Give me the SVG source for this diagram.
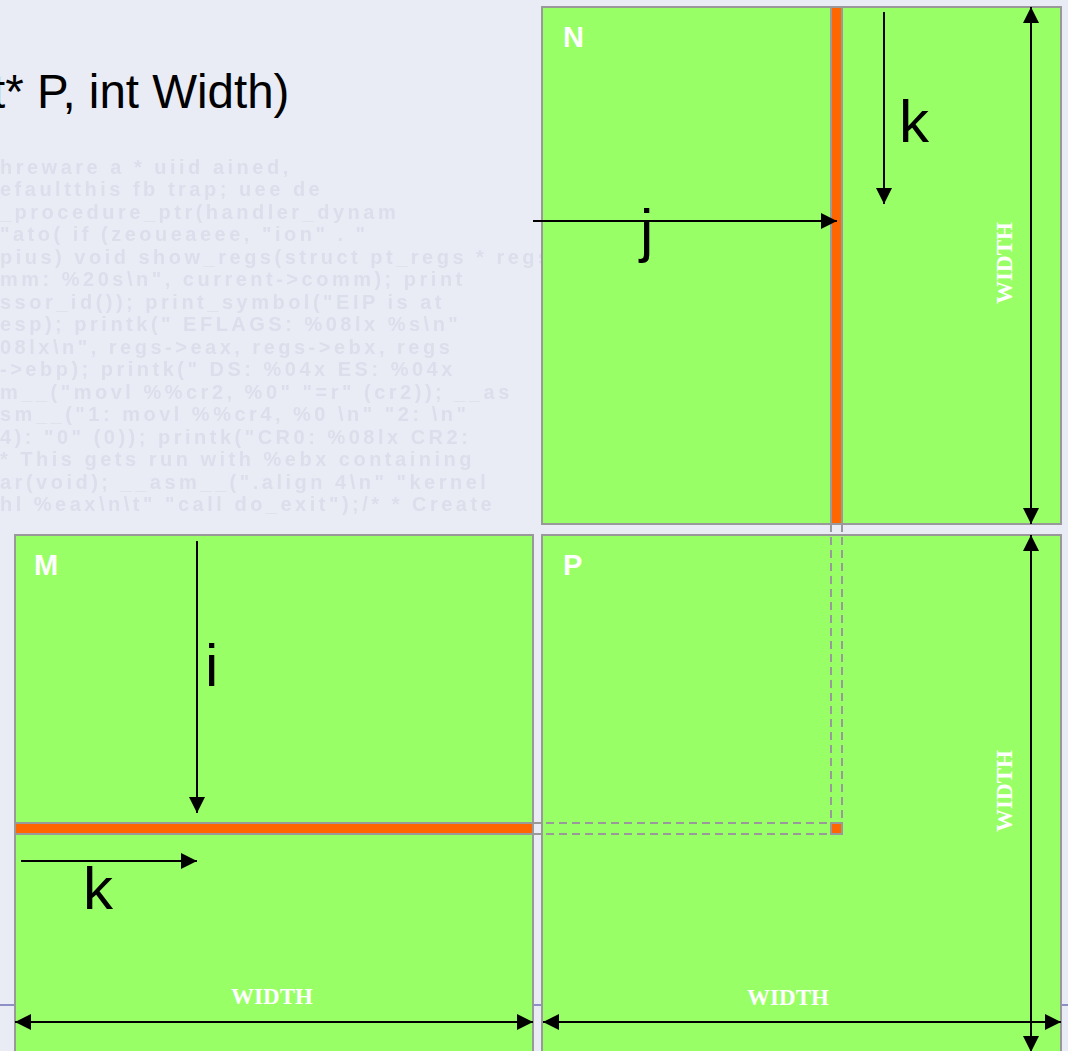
<svg xmlns="http://www.w3.org/2000/svg" width="1068" height="1051" viewBox="0 0 1068 1051">
<defs>
<marker id="ah" viewBox="0 0 16 16" markerWidth="16" markerHeight="16" refX="16" refY="8" orient="auto-start-reverse" markerUnits="userSpaceOnUse">
<path d="M0,0 L16,8 L0,16 Z" fill="#000"/>
</marker>
<filter id="soft" x="-5%" y="-5%" width="110%" height="110%">
<feGaussianBlur stdDeviation="0.7"/>
</filter>
<style>
.bgcode{font-family:"Liberation Sans",Arial,sans-serif;font-weight:bold;font-size:20px;fill:#dcdfeb;letter-spacing:3.5px}
.box{fill:#99ff66;stroke:#999;stroke-width:2}
.bar{fill:#ff6600;stroke:#999;stroke-width:2}
.dash{stroke:#999;stroke-width:2;stroke-dasharray:8 5;fill:none}
.arr{stroke:#000;stroke-width:2;fill:none}
.name{font-family:"Liberation Sans",Arial,sans-serif;font-weight:bold;font-size:29px;fill:#fff}
.idx{font-family:"Liberation Sans",Arial,sans-serif;font-size:60px;fill:#000}
.wd{font-family:"Liberation Serif","Times New Roman",serif;font-weight:bold;font-size:23px;fill:#fff;text-anchor:middle}
.title{font-family:"Liberation Sans",Arial,sans-serif;font-size:47.5px;fill:#000}
</style>
</defs>
<rect x="0" y="0" width="1068" height="1051" fill="#e9ecf5"/>
<g id="background-code" filter="url(#soft)">
<text class="bgcode" x="0" y="174">hreware a * uiid ained,</text>
<text class="bgcode" x="0" y="196">efaultthis fb trap; uee de</text>
<text class="bgcode" x="0" y="219">_procedure_ptr(handler_dynam</text>
<text class="bgcode" x="0" y="241">"ato( if (zeoueaeee, "ion" . "</text>
<text class="bgcode" x="0" y="264">pius) void show_regs(struct pt_regs * regs)</text>
<text class="bgcode" x="0" y="286">mm: %20s\n", current-&gt;comm); print</text>
<text class="bgcode" x="0" y="309">ssor_id()); print_symbol("EIP is at</text>
<text class="bgcode" x="0" y="331">esp); printk(" EFLAGS: %08lx %s\n"</text>
<text class="bgcode" x="0" y="354">08lx\n", regs-&gt;eax, regs-&gt;ebx, regs</text>
<text class="bgcode" x="0" y="376">-&gt;ebp); printk(" DS: %04x ES: %04x</text>
<text class="bgcode" x="0" y="399">m__("movl %%cr2, %0" "=r" (cr2)); __as</text>
<text class="bgcode" x="0" y="421">sm__("1: movl %%cr4, %0 \n" "2: \n"</text>
<text class="bgcode" x="0" y="444">4): "0" (0)); printk("CR0: %08lx CR2:</text>
<text class="bgcode" x="0" y="466"> * This gets run with %ebx containing</text>
<text class="bgcode" x="0" y="489">ar(void); __asm__(".align 4\n" "kernel</text>
<text class="bgcode" x="0" y="511">hl %eax\n\t" "call do_exit");/* * Create</text>
</g>
<line x1="0" y1="1005" x2="1068" y2="1005" stroke="#333399" stroke-width="1"/>
<text class="title" x="-8" y="108">t* P, int Width)</text>
<g id="node-N">
<rect class="box" x="542" y="7" width="519" height="517"/>
<rect class="bar" x="831" y="7" width="11" height="517"/>
<text class="name" x="563" y="47">N</text>
</g>
<g id="node-M">
<rect class="box" x="15" y="535" width="518" height="530"/>
<rect class="bar" x="15" y="823" width="518" height="11"/>
<text class="name" x="34" y="575">M</text>
</g>
<g id="node-P">
<rect class="box" x="542" y="535" width="519" height="530"/>
<text class="name" x="563" y="575">P</text>
</g>
<g id="connectors">
<path class="dash" d="M831,524 V823 M842,524 V834 M533,823 H831 M533,834 H842"/>
<rect class="bar" x="831" y="823" width="11" height="11"/>
<line class="arr" x1="533" y1="221" x2="837" y2="221" marker-end="url(#ah)"/>
<line class="arr" x1="884" y1="12" x2="884" y2="204" marker-end="url(#ah)"/>
<line class="arr" x1="1031" y1="7" x2="1031" y2="524" marker-start="url(#ah)" marker-end="url(#ah)"/>
<line class="arr" x1="1031" y1="535" x2="1031" y2="1052" marker-start="url(#ah)" marker-end="url(#ah)"/>
<line class="arr" x1="197" y1="541" x2="197" y2="813" marker-end="url(#ah)"/>
<line class="arr" x1="21" y1="861" x2="197" y2="861" marker-end="url(#ah)"/>
<line class="arr" x1="15" y1="1022" x2="533" y2="1022" marker-start="url(#ah)" marker-end="url(#ah)"/>
<line class="arr" x1="543" y1="1022" x2="1061" y2="1022" marker-start="url(#ah)" marker-end="url(#ah)"/>
<text class="idx" x="640" y="251">j</text>
<text class="idx" x="899" y="142">k</text>
<text class="idx" x="205" y="686">i</text>
<text class="idx" x="83" y="909">k</text>
<text class="wd" x="272" y="1004">WIDTH</text>
<text class="wd" x="788" y="1005">WIDTH</text>
<text class="wd" transform="translate(1012,263) rotate(-90)" x="0" y="0">WIDTH</text>
<text class="wd" transform="translate(1012,791) rotate(-90)" x="0" y="0">WIDTH</text>
</g>
</svg>
